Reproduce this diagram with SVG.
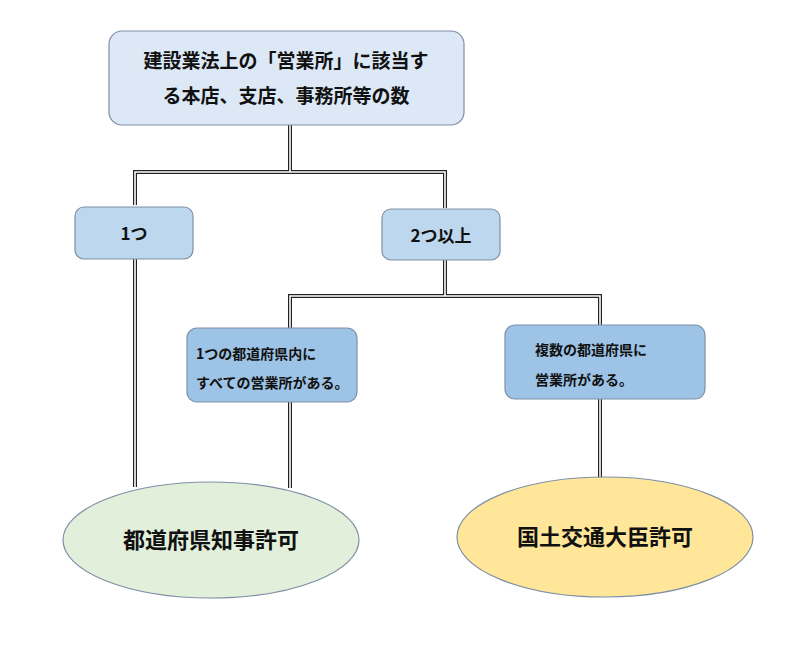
<svg xmlns="http://www.w3.org/2000/svg" width="800" height="649" viewBox="0 0 800 649">
<style>
.box{stroke:#7f8fa6;stroke-width:1.2}
.t{font-family:"Noto Sans CJK JP","Noto Sans",sans-serif;font-weight:bold;fill:#111}
.c1{fill:none;stroke:#222;stroke-width:4}
.c2{fill:none;stroke:#fff;stroke-width:1.6}
</style>
<rect width="800" height="649" fill="#fff"/>
<g id="connectors">
<path class="c1" d="M290,125V172M135,205V172H445V208M135,259V487M445,260V296M290,328V296H600V325M290,402V488M600,399V478"/>
<path class="c2" d="M290,125V172M135,205V172H445V208M135,259V487M445,260V296M290,328V296H600V325M290,402V488M600,399V478"/>
</g>
<g id="top">
<rect class="box" x="109" y="31" width="355" height="94" rx="13" fill="#dce8f5"/>
<text class="t" x="286" y="68" font-size="19" text-anchor="middle">建設業法上の「営業所」に該当す</text>
<text class="t" x="286" y="103" font-size="19" text-anchor="middle">る本店、支店、事務所等の数</text>
</g>
<g id="one">
<rect class="box" x="75" y="207" width="118" height="52" rx="9" fill="#bdd7ee"/>
<text class="t" x="134" y="240" font-size="17" text-anchor="middle">1つ</text>
</g>
<g id="two">
<rect class="box" x="382" y="209" width="118" height="51" rx="9" fill="#bdd7ee"/>
<text class="t" x="441" y="242" font-size="17" text-anchor="middle">2つ以上</text>
</g>
<g id="left">
<rect class="box" x="187" y="328" width="170" height="74" rx="10" fill="#9dc3e6"/>
<text class="t" x="196" y="359" font-size="14">1つの都道府県内に</text>
<text class="t" x="196" y="388" font-size="14">すべての営業所がある。</text>
</g>
<g id="right">
<rect class="box" x="505" y="325" width="200" height="74" rx="10" fill="#9dc3e6"/>
<text class="t" x="535" y="355" font-size="14">複数の都道府県に</text>
<text class="t" x="535" y="385" font-size="14">営業所がある。</text>
</g>
<g id="pref">
<ellipse class="box" cx="211" cy="540" rx="148" ry="58" fill="#e2efda"/>
<text class="t" x="211" y="548" font-size="22" text-anchor="middle">都道府県知事許可</text>
</g>
<g id="minister">
<ellipse class="box" cx="605" cy="537" rx="148" ry="60" fill="#ffe699"/>
<text class="t" x="605" y="545" font-size="22" text-anchor="middle">国土交通大臣許可</text>
</g>
</svg>
